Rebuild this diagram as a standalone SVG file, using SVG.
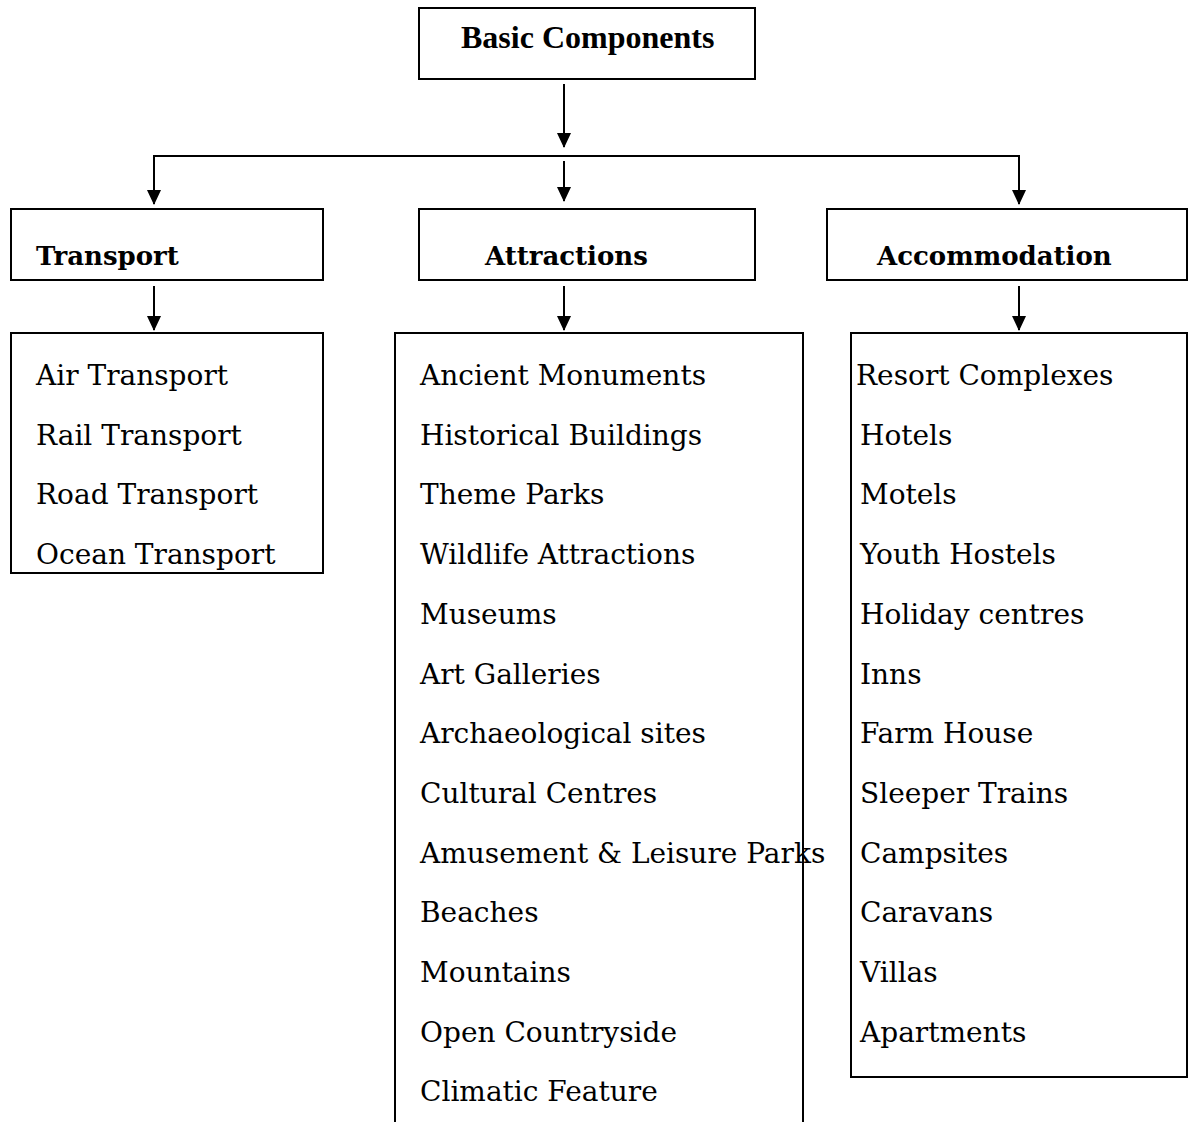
<svg xmlns="http://www.w3.org/2000/svg" width="1195" height="1122" viewBox="0 0 1195 1122">
<style>
.box{fill:#fff;stroke:#000;stroke-width:2}
.ln{fill:none;stroke:#000;stroke-width:2}
.title{font-family:"Liberation Serif",serif;font-weight:bold;font-size:32px}
.head{font-family:"DejaVu Serif","Liberation Serif",serif;font-weight:bold;font-size:26px}
.item{font-family:"DejaVu Serif","Liberation Serif",serif;font-size:28px}
</style>
<defs>
<marker id="ah" markerUnits="userSpaceOnUse" markerWidth="16" markerHeight="16" viewBox="0 0 16 16" refX="14" refY="8" orient="auto">
<path d="M0,1 L15,8 L0,15 Z" fill="#000"/>
</marker>
</defs>
<g id="connectors">
<line class="ln" x1="564" y1="84" x2="564" y2="147" marker-end="url(#ah)"/>
<path class="ln" d="M154,204 V156 H1019 V204" />
<line class="ln" x1="154" y1="190" x2="154" y2="204" marker-end="url(#ah)"/>
<line class="ln" x1="1019" y1="190" x2="1019" y2="204" marker-end="url(#ah)"/>
<line class="ln" x1="564" y1="161" x2="564" y2="201" marker-end="url(#ah)"/>
<line class="ln" x1="154" y1="286" x2="154" y2="330" marker-end="url(#ah)"/>
<line class="ln" x1="564" y1="286" x2="564" y2="330" marker-end="url(#ah)"/>
<line class="ln" x1="1019" y1="286" x2="1019" y2="330" marker-end="url(#ah)"/>
</g>
<g id="basic">
<rect class="box" x="419" y="8" width="336" height="71"/>
<text class="title" x="461" y="48">Basic Components</text>
</g>
<g id="transport">
<rect class="box" x="11" y="209" width="312" height="71"/>
<text class="head" x="36" y="265">Transport</text>
</g>
<g id="attractions">
<rect class="box" x="419" y="209" width="336" height="71"/>
<text class="head" x="485" y="265">Attractions</text>
</g>
<g id="accommodation">
<rect class="box" x="827" y="209" width="360" height="71"/>
<text class="head" x="877" y="265">Accommodation</text>
</g>
<g id="transport-list">
<rect class="box" x="11" y="333" width="312" height="240"/>
<text class="item" x="36" y="385">Air Transport</text>
<text class="item" x="36" y="445">Rail Transport</text>
<text class="item" x="36" y="504">Road Transport</text>
<text class="item" x="36" y="564">Ocean Transport</text>
</g>
<g id="attractions-list">
<path class="ln" d="M395,1125 V333 H803 V1125"/>
<text class="item" x="420" y="385">Ancient Monuments</text>
<text class="item" x="420" y="445">Historical Buildings</text>
<text class="item" x="420" y="504">Theme Parks</text>
<text class="item" x="420" y="564">Wildlife Attractions</text>
<text class="item" x="420" y="624">Museums</text>
<text class="item" x="420" y="684">Art Galleries</text>
<text class="item" x="420" y="743">Archaeological sites</text>
<text class="item" x="420" y="803">Cultural Centres</text>
<text class="item" x="420" y="863">Amusement &amp; Leisure Parks</text>
<text class="item" x="420" y="922">Beaches</text>
<text class="item" x="420" y="982">Mountains</text>
<text class="item" x="420" y="1042">Open Countryside</text>
<text class="item" x="420" y="1101">Climatic Feature</text>
</g>
<g id="accommodation-list">
<rect class="box" x="851" y="333" width="336" height="744"/>
<text class="item" x="856" y="385">Resort Complexes</text>
<text class="item" x="860" y="445">Hotels</text>
<text class="item" x="860" y="504">Motels</text>
<text class="item" x="860" y="564">Youth Hostels</text>
<text class="item" x="860" y="624">Holiday centres</text>
<text class="item" x="860" y="684">Inns</text>
<text class="item" x="860" y="743">Farm House</text>
<text class="item" x="860" y="803">Sleeper Trains</text>
<text class="item" x="860" y="863">Campsites</text>
<text class="item" x="860" y="922">Caravans</text>
<text class="item" x="860" y="982">Villas</text>
<text class="item" x="860" y="1042">Apartments</text>
</g>
</svg>
